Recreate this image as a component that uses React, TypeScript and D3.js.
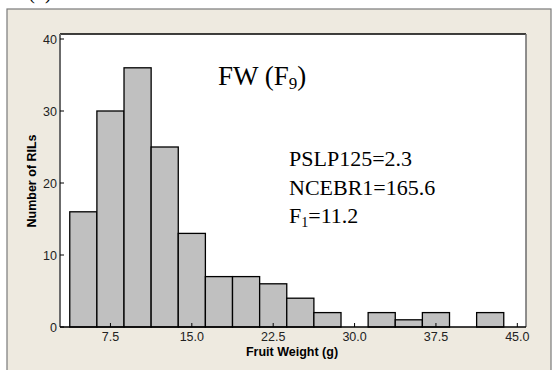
import React from "react";
import * as d3 from "d3";

// Histogram bins: centre of each 2.5 g class and the RIL count in it
const binCenters = [5, 7.5, 10, 12.5, 15, 17.5, 20, 22.5, 25, 27.5, 30, 32.5, 35, 37.5, 40, 42.5];
const counts = [16, 30, 36, 25, 13, 7, 7, 6, 4, 2, 0, 2, 1, 2, 0, 2];
const binWidth = 2.5;
const xTicks = [7.5, 15.0, 22.5, 30.0, 37.5, 45.0];
const yTicks = [0, 10, 20, 30, 40];

const W = 552;
const H = 370;
const plot = { left: 60, top: 34, right: 526, bottom: 327 };

export default function App() {
  const x = d3.scaleLinear().domain([2.85, 45.8]).range([plot.left, plot.right]);
  const y = d3.scaleLinear().domain([0, 40]).range([plot.bottom, 39]);
  const sans = "'Liberation Sans', Arial, sans-serif";
  const serif = "'Liberation Serif', 'Times New Roman', serif";

  return (
    <svg
      width={W}
      height={H}
      style={{ position: "absolute", left: 0, top: 0, background: "#ffffff" }}
    >
      {/* panel letter */}
      <text x={40} y={-1} textAnchor="middle" fontFamily={serif} fontSize={20} fill="#000">(b)</text>
      {/* outer frame */}
      <rect x={7} y={9} width={544} height={380} fill="#eeeae0" stroke="#7a7a7a" strokeWidth={1.2} />
      {/* plot area */}
      <rect x={plot.left} y={plot.top} width={plot.right - plot.left} height={plot.bottom - plot.top} fill="#ffffff" />
      {/* bars */}
      {binCenters.map((c, i) =>
        counts[i] > 0 ? (
          <rect
            key={c}
            x={x(c - binWidth / 2)}
            y={y(counts[i])}
            width={x(c + binWidth / 2) - x(c - binWidth / 2)}
            height={y(0) - y(counts[i])}
            fill="#c0c0c0"
            stroke="#000"
            strokeWidth={1.3}
          />
        ) : null
      )}
      {/* plot border */}
      <line x1={plot.left} y1={plot.top} x2={plot.right} y2={plot.top} stroke="#000" strokeWidth={1.5} />
      <line x1={plot.right} y1={plot.top} x2={plot.right} y2={plot.bottom} stroke="#6b6b6b" strokeWidth={1.5} />
      <line x1={plot.left} y1={plot.top} x2={plot.left} y2={plot.bottom} stroke="#6b6b6b" strokeWidth={2} />
      <line x1={plot.left} y1={plot.bottom} x2={plot.right} y2={plot.bottom} stroke="#000" strokeWidth={1.5} />
      {/* y ticks */}
      {yTicks.map((t) => (
        <g key={t}>
          <line x1={plot.left} x2={plot.left + 4} y1={y(t)} y2={y(t)} stroke="#000" strokeWidth={1} />
          <text x={57} y={y(t) + 4.5} textAnchor="end" fontFamily={sans} fontSize={12.5} fill="#222">{t}</text>
        </g>
      ))}
      {/* x ticks */}
      {xTicks.map((t) => (
        <g key={t}>
          <line x1={x(t)} x2={x(t)} y1={plot.bottom} y2={plot.bottom - 4} stroke="#000" strokeWidth={1} />
          <text x={x(t)} y={341} textAnchor="middle" fontFamily={sans} fontSize={12.5} fill="#222">{t.toFixed(1)}</text>
        </g>
      ))}
      {/* axis titles */}
      <text x={292} y={356} textAnchor="middle" fontFamily={sans} fontWeight="bold" fontSize={12.5} fill="#000">Fruit Weight (g)</text>
      <text transform={`translate(36,181) rotate(-90)`} textAnchor="middle" fontFamily={sans} fontWeight="bold" fontSize={12.5} fill="#000">Number of RILs</text>
      {/* annotations */}
      <text x={218} y={85} fontFamily={serif} fontSize={27} fill="#000">
        FW (F<tspan fontSize={17} dy={4}>9</tspan><tspan dy={-4}>)</tspan>
      </text>
      <g fontFamily={serif} fontSize={22} fill="#000">
        <text x={289} y={166}>PSLP125=2.3</text>
        <text x={289} y={195}>NCEBR1=165.6</text>
        <text x={289} y={223}>F<tspan fontSize={14} dy={4}>1</tspan><tspan dy={-4}>=11.2</tspan></text>
      </g>
    </svg>
  );
}
